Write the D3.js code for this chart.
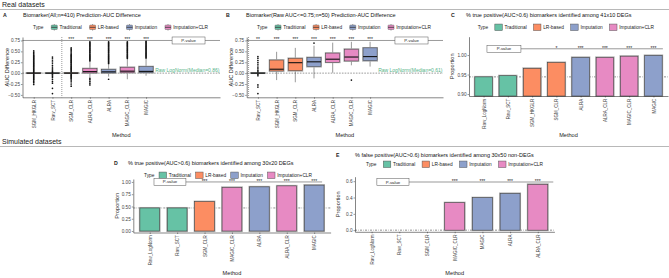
<!DOCTYPE html>
<html><head><meta charset="utf-8">
<script src="https://cdn.jsdelivr.net/npm/d3@7"></script>
<style>body{margin:0;background:#fff}svg{display:block}</style>
</head><body><svg id="c" width="669" height="278"></svg>
<script>
// ---------------- DATA ----------------
const typeNames = ["Traditional","LR-based","Imputation","Imputation+CLR"];
const typeColors = ["#66C2A5","#FC8D62","#8DA0CB","#E78AC3"];
const methodType = {Raw_LogNorm:0, Raw_SCT:0, SGM_HKGLR:1, SGM_CLR:1, ALRA:2, MAGIC:2, ALRA_CLR:3, MAGIC_CLR:3};

// Panel A: boxplots of AUC difference (all biomarkers)
const methodsA = ["SGM_HKGLR","Raw_SCT","SGM_CLR","ALRA_CLR","ALRA","MAGIC_CLR","MAGIC"];
const q1A  = [0, 0, 0, 0.005, 0.005, 0.01, 0.01];
const medA = [0, 0, 0, 0.035, 0.03, 0.045, 0.04];
const q3A  = [0.004, 0.003, 0.006, 0.105, 0.085, 0.135, 0.15];
const loA  = [-0.004, -0.003, -0.006, -0.10, -0.08, -0.14, -0.06];
const hiA  = [0.006, 0.004, 0.01, 0.26, 0.20, 0.33, 0.35];
const outA = [
  [0.51,0.48,0.45,0.42,0.40,0.38,0.36,0.34,0.32,0.30,0.28,0.26,0.24,0.22,0.20,0.18,0.16,0.14,0.12,0.10,0.08,0.06,0.04,0.02,-0.02,-0.04,-0.06,-0.08,-0.10,-0.12,-0.14,-0.16,-0.19,-0.22,-0.26],
  [0.37,0.33,0.28,0.23,0.18,0.14,0.10,0.07,0.04,0.02,-0.02,-0.04,-0.07,-0.10,-0.14,-0.19,-0.23,-0.35,-0.47],
  [0.58,0.55,0.52,0.49,0.46,0.43,0.41,0.39,0.37,0.35,0.33,0.31,0.29,0.27,0.25,0.23,0.21,0.19,0.17,0.15,0.13,0.11,0.09,0.07,0.05,0.03,-0.03,-0.05,-0.07,-0.09,-0.11,-0.13,-0.16,-0.20,-0.25,-0.30],
  [0.72,0.70,0.68,0.66,0.64,0.62,0.60,0.58,0.56,0.54,0.52,0.50,0.48,0.46,0.44,0.42,0.40,0.38,0.36,0.34,0.32,0.30,0.28,-0.12,-0.15,-0.19,-0.23,-0.27],
  [0.72,0.70,0.68,0.66,0.64,0.62,0.60,0.58,0.56,0.54,0.52,0.50,0.48,0.46,0.44,0.42,0.40,0.38,0.36,0.34,0.32,0.30,0.28,0.26,0.24,0.22,-0.14],
  [0.72,0.70,0.68,0.66,0.64,0.62,0.60,0.58,0.56,0.54,0.52,0.50,0.48,0.46,0.44,0.42,0.40,0.38,0.36,0.34],
  [0.73,0.71,0.69,0.67,0.65,0.63,0.61,0.59,0.57,0.55,0.53,0.51,0.49,0.47,0.45,0.43,0.41,0.39,0.37,0.35]
];
const sigA = ["","","***","***","***","***","***"];

// Panel B: boxplots (Raw AUC<=0.75; n=50)
const methodsB = ["Raw_SCT","SGM_HKGLR","SGM_CLR","ALRA","ALRA_CLR","MAGIC_CLR","MAGIC"];
const q1B  = [0, 0.05, 0.055, 0.15, 0.25, 0.28, 0.285];
const medB = [0, 0.09, 0.24, 0.26, 0.32, 0.37, 0.38];
const q3B  = [0.004, 0.30, 0.34, 0.36, 0.46, 0.55, 0.58];
const loB  = [-0.004, -0.16, -0.21, -0.12, 0.01, 0.18, 0.15];
const hiB  = [0.004, 0.49, 0.58, 0.63, 0.70, 0.72, 0.72];
const outB = [
  [0.38,0.34,0.29,0.24,0.19,0.14,0.10,0.06,0.03,-0.03,-0.06,-0.27,-0.32,-0.47],
  [], [], [0.69], [], [-0.16], []
];
const sigB = ["**","***","***","***","***","***","***"];

// Panel C: bar proportions (real, 41x10 DEGs)
const methodsC = ["Raw_LogNorm","Raw_SCT","SGM_HKGLR","SGM_CLR","ALRA","ALRA_CLR","MAGIC_CLR","MAGIC"];
const valuesC  = [0.944, 0.947, 0.966, 0.981, 0.994, 0.994, 0.997, 0.999];
const sigC     = ["","","","*","***","***","***","***"];

// Panel D: bar proportions (simulated, 30x20 DEGs)
const methodsD = ["Raw_LogNorm","Raw_SCT","SGM_CLR","MAGIC_CLR","ALRA","ALRA_CLR","MAGIC"];
const valuesD  = [0.47, 0.47, 0.60, 0.89, 0.90, 0.92, 0.935];
const sigD     = ["","","***","***","***","***","***"];

// Panel E: bar proportions (simulated, 30x50 non-DEGs)
const methodsE = ["Raw_LogNorm","Raw_SCT","SGM_CLR","MAGIC_CLR","MAGIC","ALRA","ALRA_CLR"];
const valuesE  = [0, 0, 0, 0.337, 0.398, 0.45, 0.562];
const sigE     = ["","","","***","***","***","***"];

const ticksAB = [-0.5,-0.25,0,0.25,0.5,0.75];
const ticksC = [0.90,0.95,1.00];
const ticksD = [0,0.25,0.5,0.75,1];
const ticksE = [0,0.2,0.4,0.6];

// ---------------- DRAWING ----------------
const FONT = '"Liberation Sans", Arial, Helvetica, sans-serif';
const svg = d3.select("#c").attr("font-family", FONT);

function section(label, ty, ly) {
  svg.append("text").attr("x",2).attr("y",ty).attr("font-size",7).attr("fill","#222").text(label);
  svg.append("line").attr("x1",0).attr("x2",669).attr("y1",ly).attr("y2",ly)
    .attr("stroke","#9a9a9a").attr("stroke-width",0.7);
}
section("Real datasets", 7, 9.5);
section("Simulated datasets", 143.5, 146.5);

function legend(g, x0, x1, yc, kind) {
  const fs = 4.8;
  const labels = ["Type"].concat(typeNames);
  const texts = labels.map(t => g.append("text").attr("font-size",fs).attr("fill","#222").text(t));
  const widths = texts.map(t => t.node().getComputedTextLength());
  const kw = kind === "box" ? 6 : 7.5, kh = kind === "box" ? 6 : 6.5, g2 = 2.2;
  const gap = (x1 - x0 - d3.sum(widths) - 4*kw - 4*g2) / 4;
  let x = x0;
  texts[0].attr("x", x).attr("y", yc + 1.7);
  x += widths[0] + gap;
  for (let i = 0; i < 4; i++) {
    if (kind === "box") {
      g.append("line").attr("x1",x+kw/2).attr("x2",x+kw/2).attr("y1",yc-3.3).attr("y2",yc+3.3).attr("stroke","#444").attr("stroke-width",0.5);
      g.append("rect").attr("x",x).attr("y",yc-2.2).attr("width",kw).attr("height",4.4)
        .attr("fill",typeColors[i]).attr("stroke","#666").attr("stroke-width",0.5).attr("rx",0.6);
      g.append("line").attr("x1",x).attr("x2",x+kw).attr("y1",yc).attr("y2",yc).attr("stroke","#333").attr("stroke-width",0.8);
    } else {
      g.append("rect").attr("x",x).attr("y",yc-kh/2).attr("width",kw).attr("height",kh)
        .attr("fill",typeColors[i]).attr("stroke","#555").attr("stroke-width",0.5);
    }
    x += kw + g2;
    texts[i+1].attr("x", x).attr("y", yc + 1.7);
    x += widths[i+1] + gap;
  }
}

function frame(P) {
  const g = svg.append("g");
  const x = d3.scaleLinear().domain(P.xDom).range(P.xRng);
  const y = d3.scaleLinear().domain(P.yDom).range(P.yRng);
  g.append("text").attr("x",P.letterX).attr("y",P.titleY+1.9).attr("font-size",5.2).attr("font-weight","bold").attr("fill","#222").text(P.letter);
  g.append("text").attr("x",P.titleX).attr("y",P.titleY+1.9).attr("font-size",5.5).attr("fill","#111").text(P.title);
  legend(g, P.leg[0], P.leg[1], P.leg[2], P.kind);
  const yc = (P.yRng[0] + P.yRng[1]) / 2;
  g.append("text").attr("transform",`translate(${P.ylabX},${yc}) rotate(-90)`).attr("text-anchor","middle")
    .attr("font-size",5.6).attr("fill","#222").text(P.ylab);
  g.append("text").attr("x",(P.xRng[0]+P.xRng[1])/2).attr("y",P.xlabY).attr("text-anchor","middle")
    .attr("font-size",5.6).attr("fill","#222").text("Method");
  return {g, x, y};
}

function axes(g, x, y, P, methods) {
  const ya = g.append("g").attr("transform",`translate(${P.xRng[0]},0)`)
    .call(d3.axisLeft(y).tickValues(P.yTicks).tickFormat(d3.format(P.yFmt)).tickSize(1.5).tickSizeOuter(0).tickPadding(1));
  ya.attr("font-family",FONT).attr("font-size",4.7);
  ya.select(".domain").attr("stroke","#333").attr("stroke-width",0.6);
  ya.selectAll(".tick line").attr("stroke","#333").attr("stroke-width",0.5);
  ya.selectAll(".tick text").attr("fill","#444");
  const xa = g.append("g").attr("transform",`translate(0,${P.yRng[0]})`)
    .call(d3.axisBottom(x).tickValues(d3.range(1, methods.length+1)).tickFormat(i => methods[i-1]).tickSize(1.5).tickSizeOuter(0));
  xa.attr("font-family",FONT).attr("font-size",4.5);
  xa.select(".domain").attr("stroke","#333").attr("stroke-width",0.6);
  xa.selectAll(".tick line").attr("stroke","#333").attr("stroke-width",0.5);
  xa.selectAll(".tick text").attr("fill","#444").attr("transform","rotate(-90)")
    .attr("x",-2.8).attr("y",0).attr("dy","0.35em").attr("text-anchor","end");
}

function pvalue(g, x, y, P, sig) {
  const ly = y(P.pLine);
  g.append("line").attr("x1",x(P.pFrom)).attr("x2",x(P.pTo)).attr("y1",ly).attr("y2",ly)
    .attr("stroke","#555").attr("stroke-width",0.6);
  g.append("rect").attr("x",x(P.pBox[0])).attr("y",ly-3.5).attr("width",x(P.pBox[1])-x(P.pBox[0])).attr("height",7)
    .attr("fill","#fff").attr("stroke","#555").attr("stroke-width",0.5);
  g.append("text").attr("x",(x(P.pBox[0])+x(P.pBox[1]))/2).attr("y",ly+1.5).attr("text-anchor","middle")
    .attr("font-size",4.3).attr("fill","#222").text("P-value");
  sig.forEach((s,i) => {
    if (!s) return;
    g.append("text").attr("x",x(i+1)).attr("y",ly+0.9).attr("text-anchor","middle")
      .attr("font-size",5).attr("fill","#222").text(s);
  });
}

function boxPanel(P, methods, q1, med, q3, lo, hi, out, sig) {
  const {g, x, y} = frame(P);
  g.append("line").attr("x1",P.xRng[0]).attr("x2",P.xRng[1]).attr("y1",y(0)).attr("y2",y(0))
    .attr("stroke","#555").attr("stroke-width",0.6).attr("stroke-dasharray","1.6,1.2");
  g.append("text").attr("x",P.xRng[1]-0.5).attr("y",y(0)-1.3).attr("text-anchor","end")
    .attr("font-size",5).attr("fill","#55B388").text(P.note);
  g.append("line").attr("x1",x(P.sep)).attr("x2",x(P.sep)).attr("y1",P.yRng[1]).attr("y2",P.yRng[0])
    .attr("stroke","#555").attr("stroke-width",0.6).attr("stroke-dasharray","1,1");
  pvalue(g, x, y, P, sig);
  const hw = x(1.375) - x(1);
  methods.forEach((m, i) => {
    const cx = x(i+1), col = typeColors[methodType[m]];
    g.append("line").attr("x1",cx).attr("x2",cx).attr("y1",y(hi[i])).attr("y2",y(q3[i])).attr("stroke","#333").attr("stroke-width",0.5);
    g.append("line").attr("x1",cx).attr("x2",cx).attr("y1",y(q1[i])).attr("y2",y(lo[i])).attr("stroke","#333").attr("stroke-width",0.5);
    g.append("rect").attr("x",cx-hw).attr("y",y(q3[i])).attr("width",2*hw).attr("height",y(q1[i])-y(q3[i]))
      .attr("fill","none").attr("stroke","#aaa").attr("stroke-width",1.8);
    g.append("rect").attr("x",cx-hw).attr("y",y(q3[i])).attr("width",2*hw).attr("height",y(q1[i])-y(q3[i]))
      .attr("fill",col).attr("stroke","#444").attr("stroke-width",0.5);
    g.append("line").attr("x1",cx-hw).attr("x2",cx+hw).attr("y1",y(med[i])).attr("y2",y(med[i]))
      .attr("stroke","#111").attr("stroke-width",1.1);
    g.selectAll(null).data(out[i]).enter().append("circle")
      .attr("cx",cx).attr("cy",d => y(d)).attr("r",0.85).attr("fill","#111");
  });
  axes(g, x, y, P, methods);
}

function barPanel(P, methods, values, sig) {
  const {g, x, y} = frame(P);
  g.append("line").attr("x1",P.xRng[0]).attr("x2",P.xRng[1]).attr("y1",y(values[0])).attr("y2",y(values[0]))
    .attr("stroke","#444").attr("stroke-width",0.6).attr("stroke-dasharray","2,1.2,0.6,1.2");
  pvalue(g, x, y, P, sig);
  const hw = x(1.36) - x(1);
  const base = Math.min(y(0), P.yRng[0]);
  methods.forEach((m, i) => {
    const cx = x(i+1), col = typeColors[methodType[m]];
    g.append("rect").attr("x",cx-hw).attr("y",y(values[i])).attr("width",2*hw).attr("height",base-y(values[i]))
      .attr("fill","none").attr("stroke","#b0b0b0").attr("stroke-width",2);
    g.append("rect").attr("x",cx-hw).attr("y",y(values[i])).attr("width",2*hw).attr("height",base-y(values[i]))
      .attr("fill",col).attr("stroke","#444").attr("stroke-width",0.6);
  });
  axes(g, x, y, P, methods);
}

boxPanel({letter:"A", letterX:3, titleX:23, titleY:15.5,
  title:"Biomarker(All;n=410) Prediction-AUC Difference",
  leg:[33,208,27.3], kind:"box", ylab:"AUC Difference", ylabX:8.5, xlabY:137,
  xDom:[0.4,10.95], xRng:[22.5,220], yDom:[-0.555,0.83], yRng:[97.3,37],
  yTicks:ticksAB, yFmt:".2f", sep:2.5, note:"Raw LogNorm(Median=0.86)",
  pLine:0.75, pFrom:0.4, pTo:10.95, pBox:[8.39,10.15]},
  methodsA, q1A, medA, q3A, loA, hiA, outA, sigA);

boxPanel({letter:"B", letterX:226, titleX:246, titleY:15.5,
  title:"Biomarker(Raw AUC<=0.75;n=50) Prediction-AUC Difference",
  leg:[257,431,27.3], kind:"box", ylab:"AUC Difference", ylabX:233, xlabY:137,
  xDom:[0.4,10.9], xRng:[246.7,443], yDom:[-0.555,0.83], yRng:[97.3,37],
  yTicks:ticksAB, yFmt:".2f", sep:0.5, note:"Raw LogNorm(Median=0.61)",
  pLine:0.75, pFrom:0.4, pTo:10.9, pBox:[8.33,10.1]},
  methodsB, q1B, medB, q3B, loB, hiB, outB, sigB);

barPanel({letter:"C", letterX:451, titleX:466, titleY:15.5,
  title:"% true positive(AUC>0.6) biomarkers identified among 41x10 DEGs",
  leg:[477.7,654,27.3], kind:"bar", ylab:"Proportion", ylabX:454, xlabY:137,
  xDom:[0.4,8.6], xRng:[469,668], yDom:[0.895,1.047], yRng:[96,36.7],
  yTicks:ticksC, yFmt:".2f",
  pLine:1.016, pFrom:1.14, pTo:8.39, pBox:[1.14,2.54]},
  methodsC, valuesC, sigC);

barPanel({letter:"D", letterX:114, titleX:128, titleY:163,
  title:"% true positive(AUC>0.6) biomarkers identified among 30x20 DEGs",
  leg:[144,312,175.3], kind:"bar", ylab:"Proportion", ylabX:118.5, xlabY:275,
  xDom:[0.4,7.6], xRng:[133.3,330.6], yDom:[-0.03,1.06], yRng:[232.5,179],
  yTicks:ticksD, yFmt:".2f",
  pLine:1.0, pFrom:1.155, pTo:7.29, pBox:[1.155,2.32]},
  methodsD, valuesD, sigD);

barPanel({letter:"E", letterX:336, titleX:355, titleY:155,
  title:"% false positive(AUC>0.6) biomarkers identified among 30x50 non-DEGs",
  leg:[366,543,164.3], kind:"bar", ylab:"Proportion", ylabX:339.5, xlabY:275,
  xDom:[0.4,7.6], xRng:[355,554.4], yDom:[-0.02,0.655], yRng:[231.8,176.7],
  yTicks:ticksE, yFmt:".1f",
  pLine:0.59, pFrom:1.19, pTo:7.56, pBox:[1.19,2.35]},
  methodsE, valuesE, sigE);
</script>
</body></html>
